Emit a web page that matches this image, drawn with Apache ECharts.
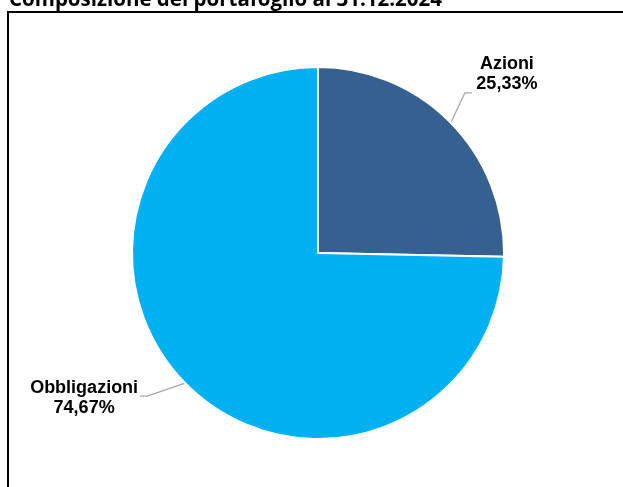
<!DOCTYPE html>
<html>
<head>
<meta charset="utf-8">
<script src="https://cdn.jsdelivr.net/npm/echarts@6/dist/echarts.min.js"></script>
<style>
  html, body { margin: 0; padding: 0; background: #fff; }
  #chart { width: 623px; height: 487px; }
</style>
</head>
<body>
<div id="chart"></div>
<script>
// dati del grafico
var categorie = ["Azioni", "Obbligazioni"];
var valori = [25.33, 74.67];
var colori = ["#36608f", "#00b0f0"];

var chart = echarts.init(document.getElementById("chart"));

var option = {
  animation: false,
  title: {
    text: "Composizione del portafoglio al 31.12.2024",
    left: 4,
    top: -15,
    textStyle: {
      fontFamily: "Open Sans",
      fontWeight: "bold",
      fontSize: 20.5,
      color: "#000"
    }
  },
  graphic: [
    {
      type: "rect",
      shape: { x: 8, y: 12, width: 640, height: 500 },
      style: { fill: "none", stroke: "#000", lineWidth: 2 }
    }
  ],
  series: [
    {
      type: "pie",
      center: [318, 253],
      radius: 186,
      startAngle: 90,
      clockwise: true,
      data: categorie.map(function (c, i) {
        return { name: c, value: valori[i], itemStyle: { color: colori[i] } };
      }),
      itemStyle: { borderColor: "#fff", borderWidth: 2 },
      label: {
        show: true,
        formatter: function (p) {
          return p.name + "\n" + p.value.toFixed(2).replace(".", ",") + "%";
        },
        fontFamily: "Liberation Sans",
        fontWeight: "bold",
        fontSize: 18,
        lineHeight: 20,
        color: "#000",
        align: "center"
      },
      labelLine: {
        show: true,
        lineStyle: { color: "#a6a6a6", width: 1.3 }
      },
      labelLayout: function (params) {
        var s = params.labelLinePoints[0];
        var p1, p2;
        if (params.dataIndex === 0) {
          p1 = [s[0] + 14, s[1] - 30];
          p2 = [p1[0] + 7, p1[1]];
          return {
            x: p2[0] + 35, y: p2[1] - 19,
            align: "center", verticalAlign: "middle",
            labelLinePoints: [s, p1, p2]
          };
        } else {
          p1 = [s[0] - 38, s[1] + 13];
          p2 = [p1[0] - 7, p1[1]];
          return {
            x: p2[0] - 56, y: p2[1] + 2,
            align: "center", verticalAlign: "middle",
            labelLinePoints: [s, p1, p2]
          };
        }
      }
    }
  ]
};

chart.setOption(option);
</script>
</body>
</html>
